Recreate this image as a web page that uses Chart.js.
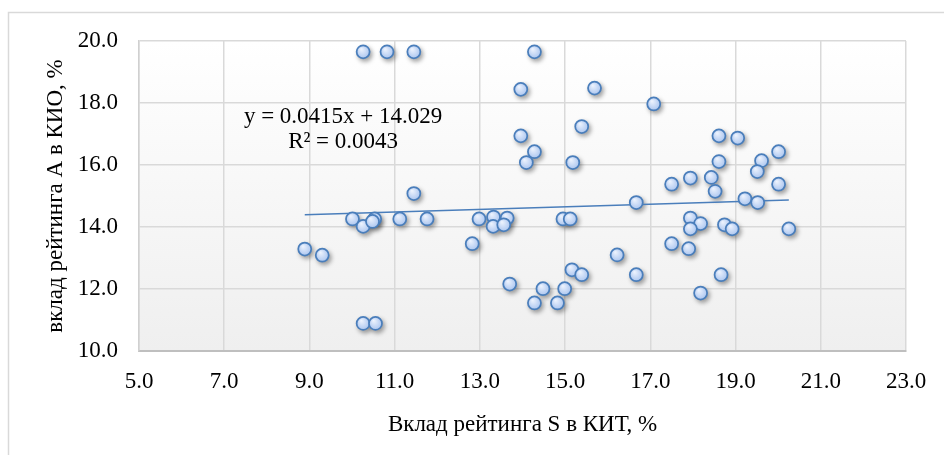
<!DOCTYPE html>
<html>
<head>
<meta charset="utf-8">
<script src="https://cdn.jsdelivr.net/npm/chart.js@4.4.1/dist/chart.umd.min.js"></script>
<style>
  body { margin: 0; background: #fff; }
  #wrap { width: 944px; height: 455px; }
</style>
</head>
<body>
<div id="wrap"><canvas id="scatterChart" width="944" height="455"></canvas></div>
<script>
// values
var kitShare = [10.26, 10.82, 11.45, 14.28, 13.96, 15.69, 17.08, 15.39, 13.96, 18.61,
                19.05, 14.28, 20.01, 14.09, 15.18, 18.61, 19.61, 19.51, 17.94, 18.43,
                17.50, 20.01, 18.52, 11.45, 16.67, 19.22, 19.52, 10.01, 10.26, 10.53,
                10.48, 11.12, 11.76, 12.98, 13.32, 13.64, 13.31, 13.56, 14.95, 15.12,
                17.94, 18.18, 17.94, 18.74, 18.92, 20.25, 8.89, 9.30, 12.82, 17.50,
                17.90, 16.22, 15.16, 15.39, 16.67, 18.66, 13.70, 14.48, 14.99, 18.18,
                14.28, 14.82, 10.26, 10.55];
var kioShare = [19.65, 19.65, 19.65, 19.65, 18.44, 18.48, 17.97, 17.24, 16.94, 16.94,
                16.87, 16.43, 16.43, 16.08, 16.08, 16.11, 16.14, 15.79, 15.58, 15.60,
                15.38, 15.38, 15.15, 15.08, 14.79, 14.91, 14.79, 14.26, 14.02, 14.26,
                14.18, 14.26, 14.26, 14.26, 14.32, 14.29, 14.02, 14.07, 14.26, 14.26,
                14.29, 14.11, 13.94, 14.07, 13.94, 13.94, 13.29, 13.09, 13.46, 13.46,
                13.30, 13.10, 12.62, 12.46, 12.46, 12.46, 12.16, 12.01, 12.01, 11.87,
                11.55, 11.55, 10.89, 10.89];
var xTicks = [5, 7, 9, 11, 13, 15, 17, 19, 21, 23];
var yTicks = [10, 12, 14, 16, 18, 20];
var trendSlope = 0.0415;
var trendIntercept = 14.029;
var trendR2 = 0.0043;

var xTitle = 'Вклад рейтинга S в КИТ, %';
var yTitle = 'вклад рейтинга А в КИО, %';

var points = kitShare.map(function(x, i) { return {x: x, y: kioShare[i]}; });
var xMin = Math.min.apply(null, kitShare);
var xMax = Math.max.apply(null, kitShare);
var trendPoints = [
    {x: xMin, y: trendSlope * xMin + trendIntercept},
    {x: xMax, y: trendSlope * xMax + trendIntercept}
];

Chart.defaults.font.family = '"Liberation Serif", "Times New Roman", serif';
Chart.defaults.font.size = 23;
Chart.defaults.color = '#000';

// frame + plot background
var backdrop = {
    id: 'backdrop',
    beforeDraw: function(chart) {
        var c = chart.ctx, a = chart.chartArea;
        c.save();
        c.fillStyle = '#fff';
        c.fillRect(0, 0, chart.width, chart.height);
        c.strokeStyle = '#d9d9d9';
        c.lineWidth = 1.5;
        c.strokeRect(8.5, 12.5, chart.width, chart.height);
        var g = c.createLinearGradient(0, a.top, 0, a.bottom);
        g.addColorStop(0, '#ffffff');
        g.addColorStop(1, '#efefef');
        c.fillStyle = g;
        c.fillRect(a.left, a.top, a.right - a.left, a.bottom - a.top);
        c.restore();
    }
};

// soft shadows under the markers
var markerShadow = {
    id: 'markerShadow',
    beforeDatasetsDraw: function(chart) {
        var meta = chart.getDatasetMeta(0);
        var c = chart.ctx;
        c.save();
        c.filter = 'blur(2px)';
        c.fillStyle = 'rgba(0,0,0,0.35)';
        meta.data.forEach(function(el) {
            c.beginPath();
            c.arc(el.x + 2, el.y + 2.5, 7.5, 0, Math.PI * 2);
            c.fill();
        });
        c.restore();
    }
};

// trendline equation
var equation = {
    id: 'equation',
    afterDatasetsDraw: function(chart) {
        var c = chart.ctx, sx = chart.scales.x, sy = chart.scales.y;
        var cx = sx.getPixelForValue(9.79);
        c.save();
        c.font = '23px "Liberation Serif", "Times New Roman", serif';
        c.fillStyle = '#000';
        c.textAlign = 'center';
        c.textBaseline = 'middle';
        c.fillText('y = ' + trendSlope + 'x + ' + trendIntercept, cx, sy.getPixelForValue(17.55));
        c.fillText('R² = ' + trendR2, cx, sy.getPixelForValue(16.75));
        c.restore();
    }
};

var ctx = document.getElementById('scatterChart').getContext('2d');
new Chart(ctx, {
    type: 'scatter',
    data: {
        datasets: [{
            label: 'data',
            data: points,
            order: 1,
            pointRadius: 6.5,
            pointHoverRadius: 6.5,
            borderWidth: 1.75,
            borderColor: '#4a7ebb',
            backgroundColor: function(c) {
                if (!c.parsed) return '#bcd2f4';
                var px = c.chart.scales.x.getPixelForValue(c.parsed.x);
                var py = c.chart.scales.y.getPixelForValue(c.parsed.y);
                if (!isFinite(px) || !isFinite(py)) return '#bcd2f4';
                var g = c.chart.ctx.createRadialGradient(px - 2, py - 3, 0, px, py, 7);
                g.addColorStop(0, '#f0f5fe');
                g.addColorStop(1, '#a9c4ef');
                return g;
            }
        }, {
            type: 'line',
            label: 'trend',
            data: trendPoints,
            order: 2,
            borderColor: '#4a7ebb',
            borderWidth: 1.5,
            pointRadius: 0,
            fill: false
        }]
    },
    options: {
        responsive: false,
        animation: false,
        events: [],
        layout: { autoPadding: false, padding: { left: 0, top: 41, right: 38, bottom: 0 } },
        plugins: {
            legend: { display: false },
            tooltip: { enabled: false }
        },
        scales: {
            x: {
                type: 'linear',
                min: xTicks[0],
                max: xTicks[xTicks.length - 1],
                afterBuildTicks: function(s) { s.ticks = xTicks.map(function(v) { return {value: v}; }); },
                afterFit: function(s) { s.height = 104; },
                ticks: {
                    padding: 17,
                    maxRotation: 0,
                    callback: function(v) { return Number(v).toFixed(1); }
                },
                grid: { color: '#d9d9d9', lineWidth: 1.5, drawTicks: false },
                border: { color: '#bfbfbf', width: 2 },
                title: { display: true, text: xTitle, padding: { top: 0, bottom: 16 } }
            },
            y: {
                type: 'linear',
                min: yTicks[0],
                max: yTicks[yTicks.length - 1],
                afterBuildTicks: function(s) { s.ticks = yTicks.map(function(v) { return {value: v}; }); },
                afterFit: function(s) { s.width = 139; },
                ticks: {
                    padding: 21,
                    callback: function(v) { return Number(v).toFixed(1); }
                },
                grid: { color: '#d9d9d9', lineWidth: 1.5, drawTicks: false },
                border: { color: '#d0d0d0', width: 1.5 },
                title: { display: true, text: yTitle, padding: { top: 42, bottom: 0 } }
            }
        }
    },
    plugins: [backdrop, markerShadow, equation]
});
</script>
</body>
</html>
